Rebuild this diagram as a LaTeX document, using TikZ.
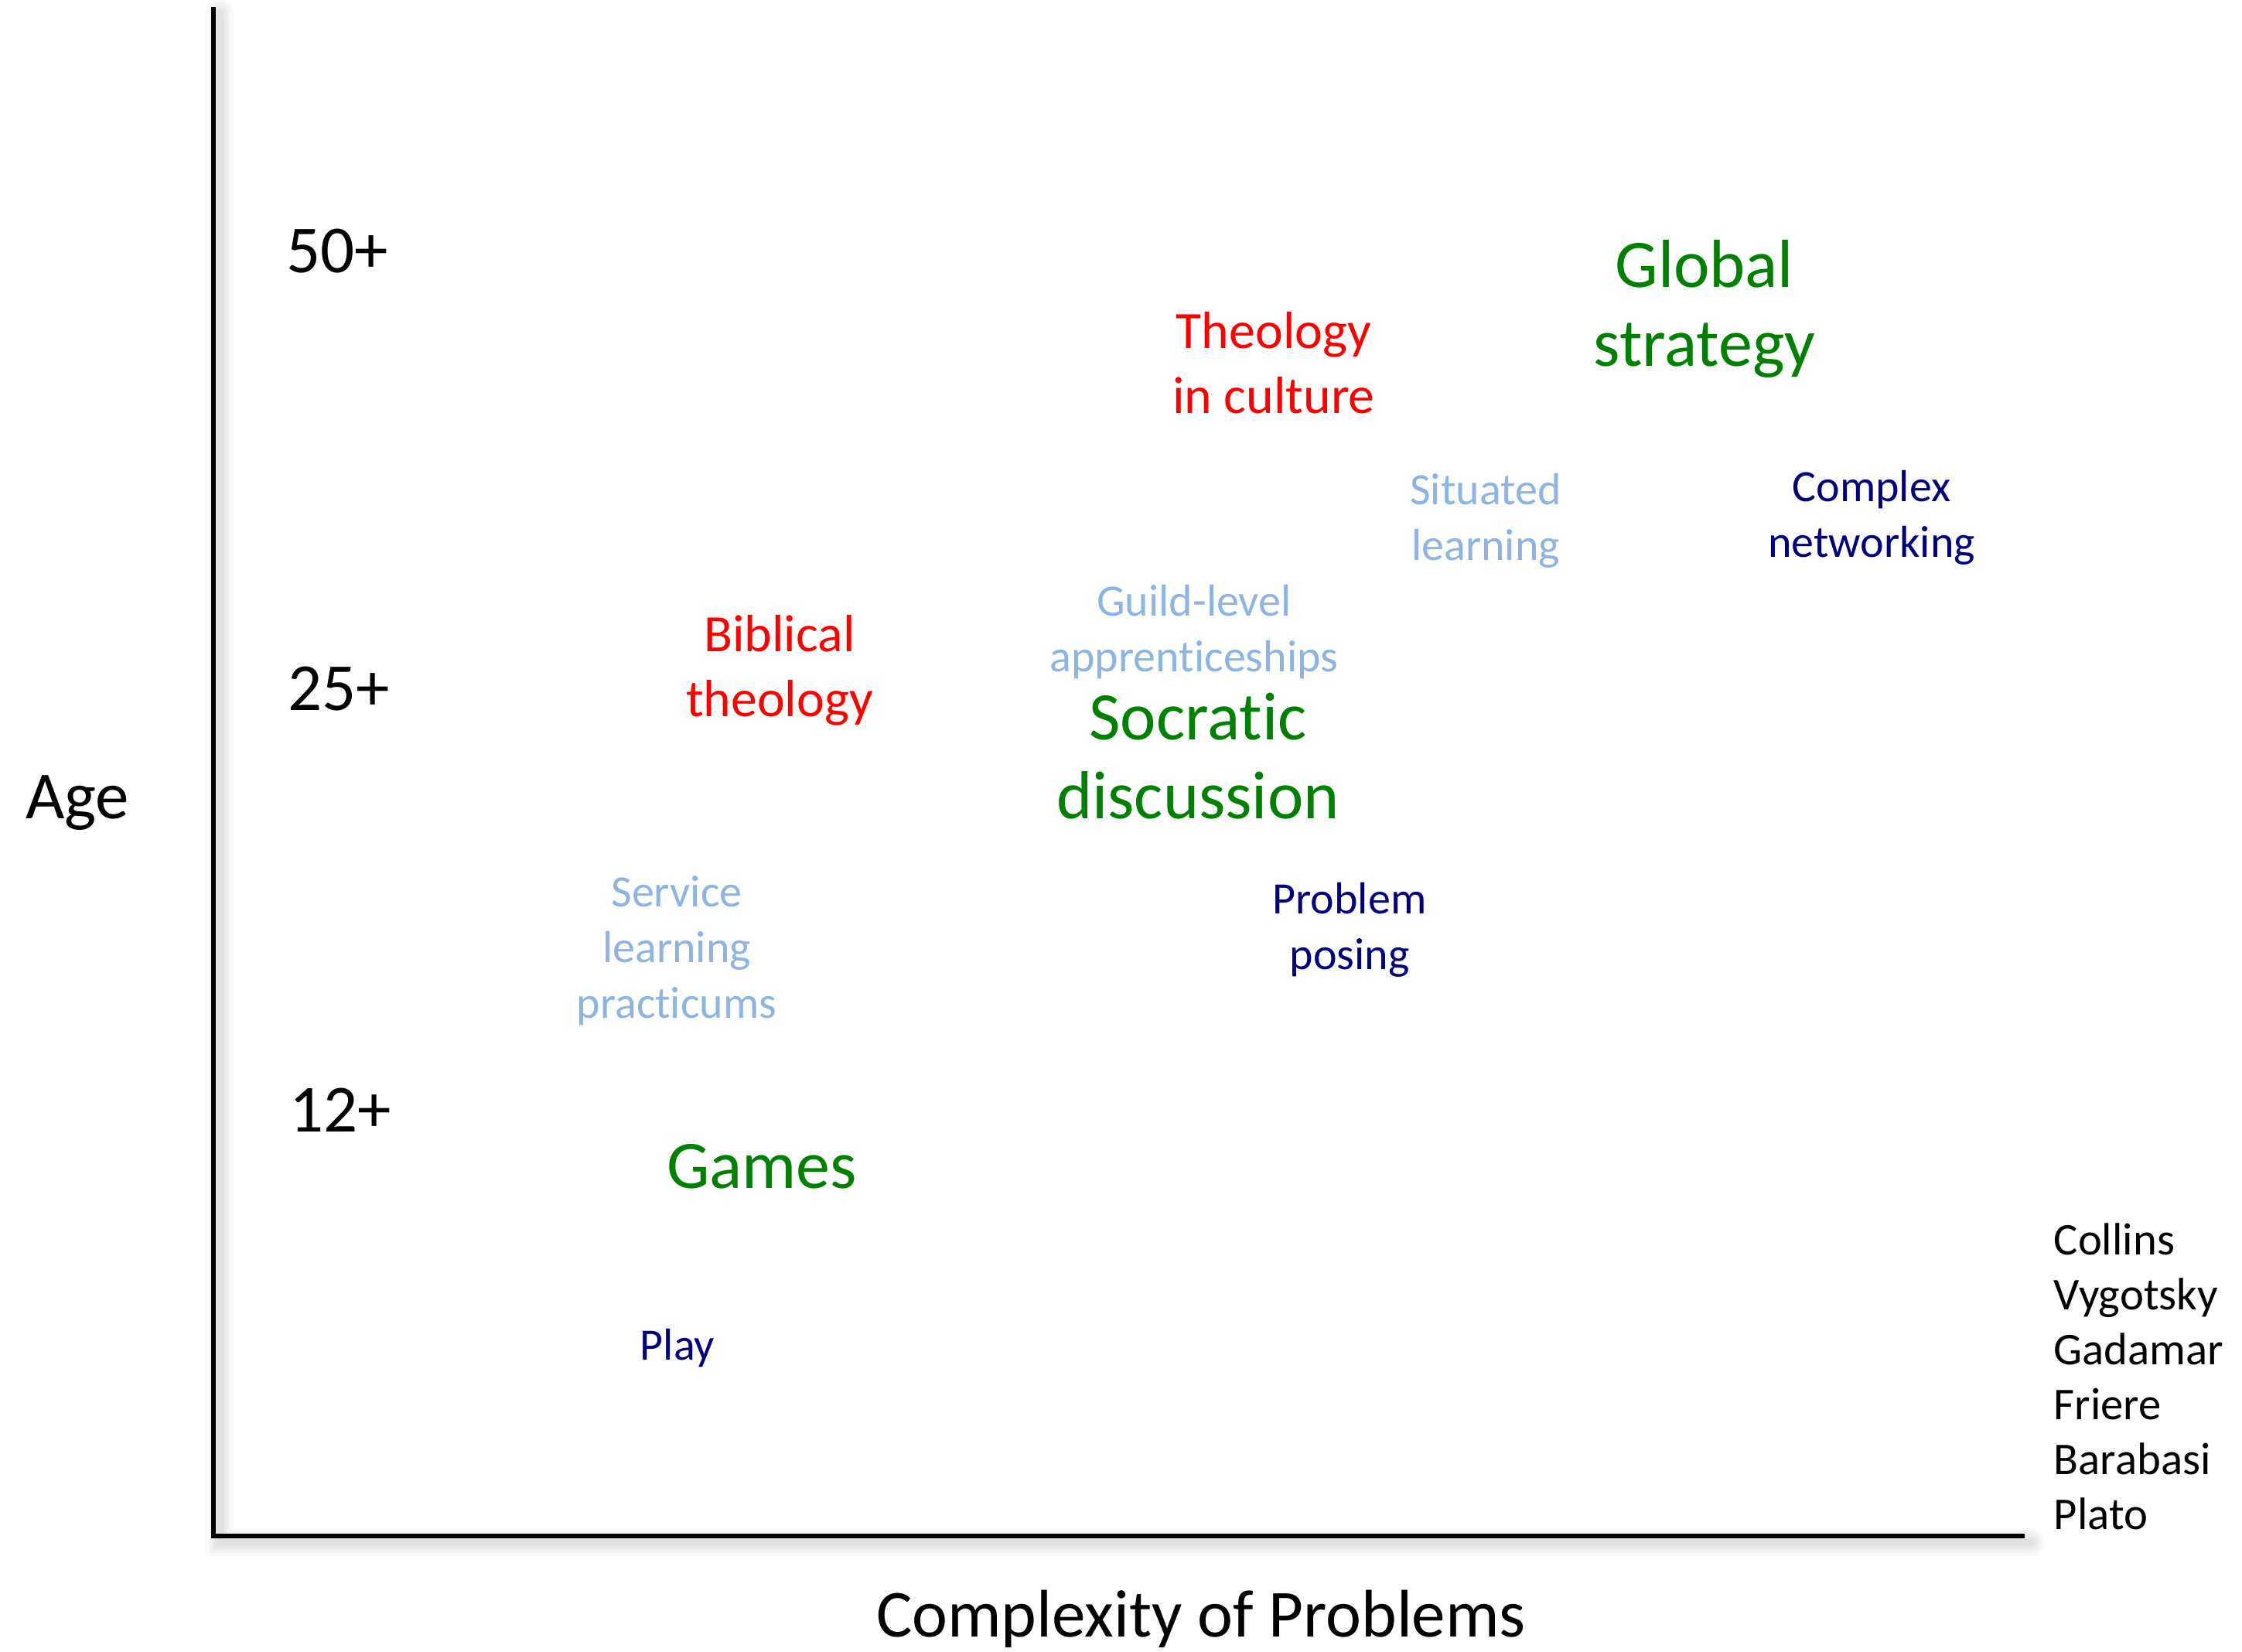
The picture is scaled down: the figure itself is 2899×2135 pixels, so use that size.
\documentclass[tikz,border=0pt]{standalone}
\usepackage{fontspec}
\setmainfont{Carlito}[Ligatures=NoCommon]
\definecolor{cgreen}{RGB}{0,128,0}
\definecolor{cred}{RGB}{255,0,0}
\definecolor{cnavy}{RGB}{0,0,128}
\definecolor{clight}{RGB}{141,180,226}
\tikzset{
  lab/.style={inner sep=0pt, align=center},
  axislab/.style={lab, font=\fontsize{24.75}{29}\selectfont, text=black},
  biglab/.style={lab, font=\fontsize{25}{29}\selectfont, text=cgreen},
  redlab/.style={lab, font=\fontsize{19.3}{23.9}\selectfont, text=cred},
  lightlab/.style={lab, font=\fontsize{16.5}{20.5}\selectfont, text=clight},
  navylab/.style={lab, font=\fontsize{16.5}{20.5}\selectfont, text=cnavy},
  namelab/.style={inner sep=0pt, align=left, font=\fontsize{16.7}{20.2}\selectfont, text=black},
  axisline/.style={line width=1.45pt, black},
  shadowline/.style={line width=#1, black, opacity=0.025, line cap=round}
}
\begin{document}
\begin{tikzpicture}[x=0.01cm, y=-0.01cm]
\useasboundingbox (0,0) rectangle (2899,2135);
\fill[white] (0,0) rectangle (2899,2135);
% axes
\coordinate (top) at (276,9);
\coordinate (origin) at (276,1986);
\coordinate (right) at (2618,1986);
\foreach \w in {36,28,20,14,9} {
  \draw[shadowline=\w*0.2845pt] ([shift={(8,8)}]top) -- ([shift={(8,8)}]origin) -- ([shift={(8,8)}]right);
}
\draw[axisline] (top) -- (origin) -- (right);
% axis labels
\node[axislab] (a50) at (436,325) {50+};
\node[axislab] (a25) at (438,891) {25+};
\node[axislab] (a12) at (440,1435) {12+};
\node[axislab] (age) at (100,1038) {Age};
\node[axislab] (cplx) at (1553,2093) {Complexity of Problems};
% items
\node[biglab] (global) at (2204,400) {Global\\strategy};
\node[redlab] (theoc) at (1647,469) {Theology\\in culture};
\node[lightlab] (situated) at (1921,673) {Situated\\learning};
\node[navylab] (complex) at (2420,669) {Complex\\networking};
\node[lightlab] (guild) at (1544,817) {Guild-level\\apprenticeships};
\node[redlab] (biblical) at (1008,867) {Biblical\\theology};
\node[biglab] (socratic) at (1549,978) {Socratic\\discussion};
\node[lightlab] (service) at (875,1229) {Service\\learning\\practicums};
\node[navylab] (posing) at (1745,1202) {Problem\\posing};
\node[biglab] (games) at (985,1508) {Games};
\node[navylab] (play) at (876,1743) {Play};
% names
\node[namelab, anchor=west] (names) at (2655,1780) {Collins\\Vygotsky\\Gadamar\\Friere\\Barabasi\\Plato};
\end{tikzpicture}
\end{document}
